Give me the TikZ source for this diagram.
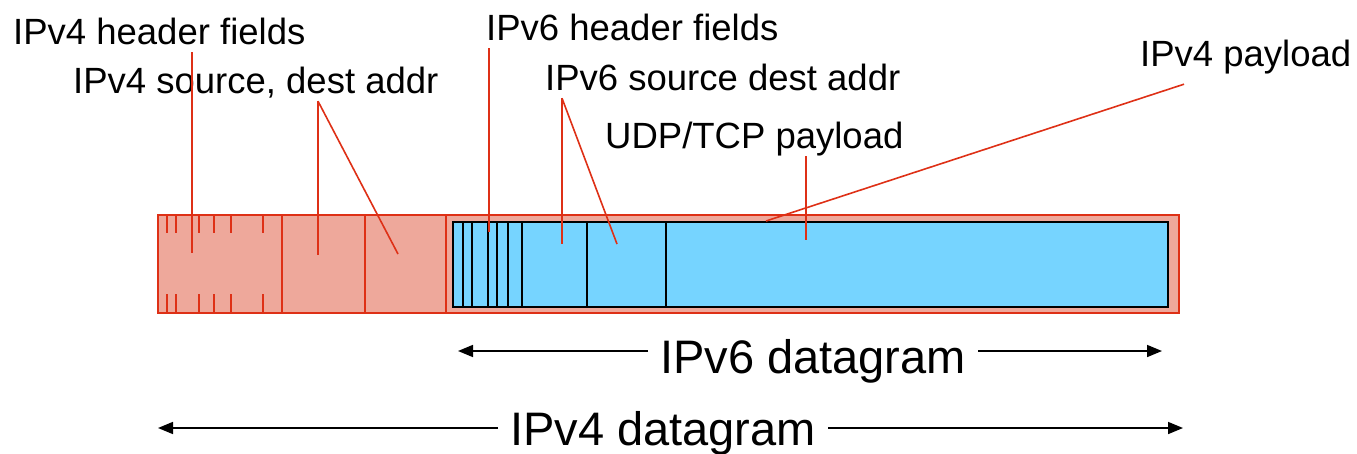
\documentclass[tikz,border=0pt]{standalone}
\usepackage{fontspec}
\setmainfont{Liberation Sans}
\usetikzlibrary{arrows.meta}
\definecolor{ipvred}{RGB}{222,48,22}
\definecolor{ipvsalmon}{RGB}{238,168,155}
\definecolor{ipvblue}{RGB}{118,212,255}

\begin{document}
\begin{tikzpicture}[x=1pt,y=-1pt,
    lbl/.style={inner xsep=0pt,inner ysep=8pt,text depth=0pt,anchor=base west,
      font=\fontsize{36.5}{44}\selectfont},
    biglbl/.style={inner xsep=12pt,inner ysep=0pt,anchor=base west,
      font=\fontsize{47}{56}\selectfont},
    ptr/.style={draw=ipvred,line width=1.6pt},
    dgarrow/.style={draw=black,line width=1.6pt,-{Triangle[length=15pt,width=12pt]}}]
  \useasboundingbox (0,0) rectangle (1357,453);

  % IPv4 datagram
  \draw[draw=ipvred,fill=ipvsalmon,line width=2pt] (158,215) rectangle (1179,313);
  \foreach \x in {282,365,446} \draw[ipvred,line width=1.6pt] (\x,215) -- (\x,313);
  \foreach \x in {167,176,199,214,231,263} {
    \draw[ipvred,line width=1.6pt] (\x,215) -- (\x,233);
    \draw[ipvred,line width=1.6pt] (\x,294) -- (\x,313);
  }
  % IPv6 datagram inside
  \draw[draw=black,fill=ipvblue,line width=2.5pt] (453,222) rectangle (1168,307);
  \foreach \x in {463,472,488,497,508,522,587,666} \draw[black,line width=1.6pt] (\x,222) -- (\x,307);

  \begin{scope}[every node/.style={lbl}]
    \node (v4hdr)  at (13,44)   {IPv4 header fields};
    \node (v4addr) at (73,93)   {IPv4 source, dest addr};
    \node (v6hdr)  at (486,40)  {IPv6 header fields};
    \node (v6addr) at (545,90)  {IPv6 source dest addr};
    \node (segpay) at (605,148) {UDP/TCP payload};
    \node (v4pay)  at (1140,66) {IPv4 payload};
  \end{scope}
  \node[biglbl] (v6dg) at (648,373) {IPv6 datagram};
  \node[biglbl] (v4dg) at (498,445) {IPv4 datagram};

  \coordinate (v4hdrpt) at (192,253);
  \coordinate (v4srcpt) at (318,255);
  \coordinate (v4dstpt) at (398,254);
  \coordinate (v6hdrpt) at (489,232);
  \coordinate (v6srcpt) at (562,244);
  \coordinate (v6dstpt) at (617,244);
  \coordinate (segpaypt) at (806,240);
  \coordinate (v4paytip) at (1184,74);
  \coordinate (v4paypt) at (766,221);

  \coordinate (v6lft) at (458,351);
  \coordinate (v6rgt) at (1162,351);
  \coordinate (v4lft) at (158,428);
  \coordinate (v4rgt) at (1183,428);

  \begin{scope}[every edge/.style={ptr}]
    \path (v4hdr.south -| v4hdrpt) edge (v4hdrpt);
    \path (v4addr.south -| v4srcpt) edge (v4srcpt);
    \path (v4addr.south -| v4srcpt) edge (v4dstpt);
    \path (v6hdr.south -| v6hdrpt) edge (v6hdrpt);
    \path (v6addr.south -| v6srcpt) edge (v6srcpt);
    \path (v6addr.south -| v6srcpt) edge (v6dstpt);
    \path (segpay.south -| segpaypt) edge (segpaypt);
    \path (v4pay.south -| v4paytip) ++(0,10) edge (v4paypt);
  \end{scope}

  \draw[dgarrow] (v6dg.west |- v6lft) -- (v6lft);
  \draw[dgarrow] (v6dg.east |- v6rgt) -- (v6rgt);
  \draw[dgarrow] (v4dg.west |- v4lft) -- (v4lft);
  \draw[dgarrow] (v4dg.east |- v4rgt) -- (v4rgt);
\end{tikzpicture}
\end{document}
